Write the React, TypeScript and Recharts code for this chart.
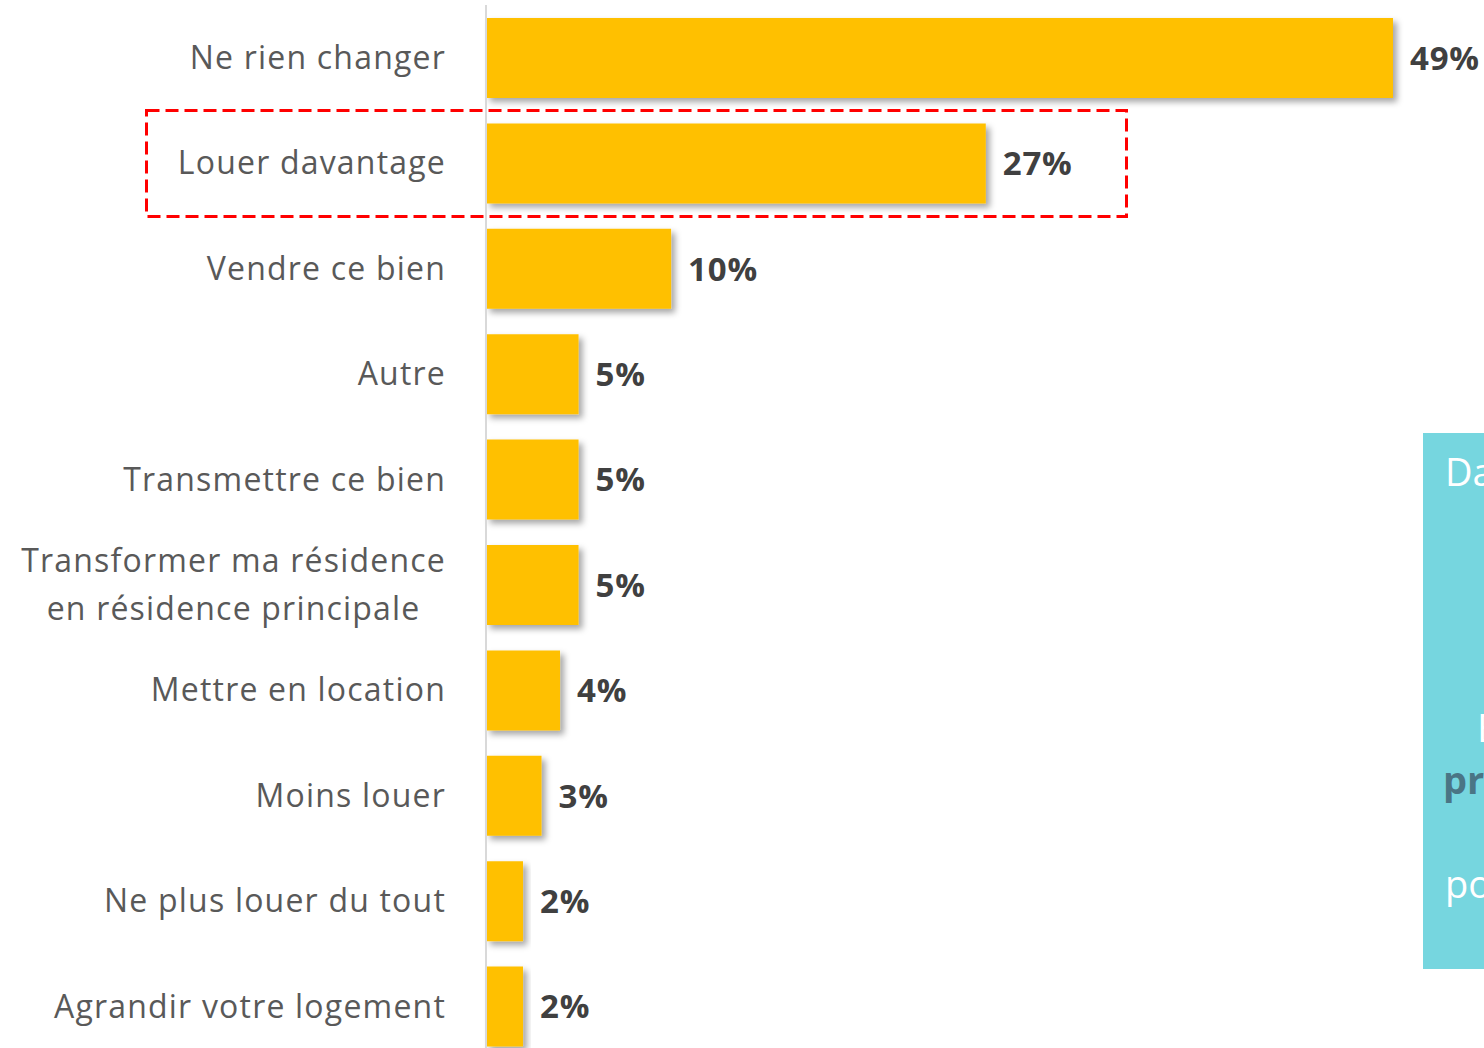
import { BarChart, Bar, XAxis, YAxis, LabelList } from "recharts";

const categories = [
  "Ne rien changer",
  "Louer davantage",
  "Vendre ce bien",
  "Autre",
  "Transmettre ce bien",
  "Transformer ma résidence\nen résidence principale",
  "Mettre en location",
  "Moins louer",
  "Ne plus louer du tout",
  "Agrandir votre logement",
];

const shares = [49, 27, 10, 5, 5, 5, 4, 3, 2, 2];

const data = categories.map((name, i) => ({ name, value: shares[i] }));

const labelFont = "32px 'Open Sans'";
const labelSpacing = 1.2;

let ctx: CanvasRenderingContext2D | null = null;
const measure = (s: string) => {
  if (!ctx) ctx = document.createElement("canvas").getContext("2d");
  if (!ctx) return s.length * 16;
  ctx.font = labelFont;
  return ctx.measureText(s).width + s.length * labelSpacing;
};

const CategoryTick = ({ x, y, payload }: any) => {
  const lines = String(payload.value).split("\n");
  const right = x - 32;
  const style = { font: labelFont, letterSpacing: `${labelSpacing}px` };
  if (lines.length === 1) {
    return (
      <text x={right} y={y} dy="0.35em" textAnchor="end" fill="#595959" style={style}>
        {lines[0]}
      </text>
    );
  }
  const w = Math.max(...lines.map(measure));
  const cx = right - w / 2;
  return (
    <text x={cx} y={y} textAnchor="middle" fill="#595959" style={style}>
      {lines.map((l, i) => (
        <tspan key={i} x={cx} dy={i === 0 ? "-0.4em" : "1.5em"}>
          {l}
        </tspan>
      ))}
    </text>
  );
};

export default function App() {
  return (
    <div style={{ position: "absolute", left: 0, top: 0, width: 1484, height: 1048, overflow: "hidden", background: "#fff" }}>
      <style>{"body{margin:0;overflow:hidden}"}</style>
      <svg width={0} height={0} style={{ position: "absolute" }}>
        <defs>
          <filter id="barShadow" x="-10%" y="-10%" width="130%" height="130%">
            <feDropShadow dx={4} dy={4} stdDeviation={3} floodColor="#000" floodOpacity={0.35} />
          </filter>
        </defs>
      </svg>
      <BarChart
        width={1484}
        height={1059}
        data={data}
        layout="vertical"
        margin={{ top: 5, right: 91, bottom: 0, left: 0 }}
      >
        <XAxis type="number" domain={[0, 49]} hide />
        <YAxis
          type="category"
          dataKey="name"
          width={486}
          axisLine={{ stroke: "#d9d9d9", strokeWidth: 2 }}
          tickLine={false}
          interval={0}
          tick={<CategoryTick />}
        />
        <Bar dataKey="value" fill="#FFC000" barSize={80} isAnimationActive={false} style={{ filter: "url(#barShadow)" }}>
          <LabelList
            dataKey="value"
            position="right"
            offset={17}
            formatter={(v: any) => `${v}%`}
            fill="#404040"
            style={{ fontFamily: "'Open Sans'", fontSize: 33, fontWeight: 700, letterSpacing: "0.8px" }}
          />
        </Bar>
      </BarChart>
      <svg width={1484} height={1048} style={{ position: "absolute", left: 0, top: 0, pointerEvents: "none" }}>
        <rect x={146.5} y={110.5} width={980} height={106} fill="none" stroke="#ff0000" strokeWidth={3} strokeDasharray="13 6" />
      </svg>
      <div
        style={{
          position: "absolute",
          left: 1423,
          top: 433,
          width: 200,
          height: 536,
          background: "#76D6DF",
          fontFamily: "'Open Sans'",
          fontSize: 38,
          color: "#fff",
        }}
      >
        <div style={{ position: "absolute", left: 22, top: 12, whiteSpace: "nowrap" }}>Da</div>
        <div style={{ position: "absolute", left: 54, top: 268, whiteSpace: "nowrap" }}>E</div>
        <div style={{ position: "absolute", left: 20, top: 320, whiteSpace: "nowrap", fontWeight: 700, color: "#4A7585" }}>pr</div>
        <div style={{ position: "absolute", left: 22, top: 424, whiteSpace: "nowrap" }}>po</div>
      </div>
    </div>
  );
}
